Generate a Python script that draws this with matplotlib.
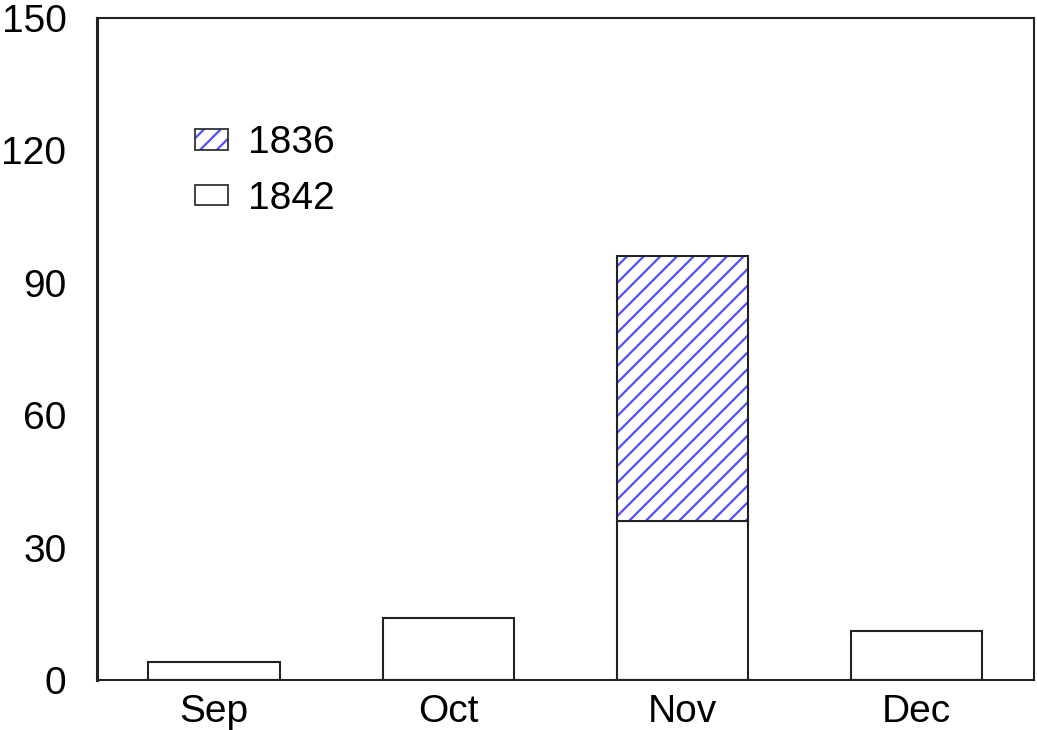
import matplotlib.pyplot as plt
from matplotlib.patches import Patch
from matplotlib.legend_handler import HandlerTuple

months = ["Sep", "Oct", "Nov", "Dec"]
y1842 = [4, 14, 36, 11]
y1836 = [0, 0, 60, 0]

plt.rcParams['font.family'] = ['Liberation Sans', 'DejaVu Sans']
plt.rcParams['hatch.linewidth'] = 1.6

fig = plt.figure(figsize=(10.37, 7.30), dpi=100)
ax = fig.add_axes([0.0935, 0.0685, 0.9035, 0.9068])

x = range(len(months))
w = 0.56

ax.bar(x, y1842, width=w, color="white", edgecolor="#222222", linewidth=1.5, zorder=2)
# hatch in blue, outline in black drawn on top
ax.bar(x, y1836, width=w, bottom=y1842, color="white", edgecolor="#5050ff",
       hatch="//", linewidth=0, zorder=2)
for xi, b, h in zip(x, y1842, y1836):
    if h > 0:
        ax.bar(xi, h, width=w, bottom=b, fill=False, edgecolor="#222222",
               linewidth=1.5, zorder=3)

ax.set_xlim(-0.5, 3.5)
ax.set_ylim(0, 150)
ax.set_yticks([0, 30, 60, 90, 120, 150])
ax.set_xticks(list(x))
ax.set_xticklabels(months)
ax.tick_params(axis="y", length=0, pad=22, labelsize=28)
ax.tick_params(axis="x", length=0, pad=10, labelsize=28)

for s in ax.spines.values():
    s.set_color("#222222")
    s.set_linewidth(1.5)
ax.spines["left"].set_linewidth(2.2)

h36 = (Patch(facecolor="white", edgecolor="#5050ff", hatch="//", linewidth=0),
       Patch(facecolor="none", edgecolor="#333333", linewidth=1.3))
h42 = Patch(facecolor="white", edgecolor="#333333", linewidth=1.3)
ax.legend([h36, h42], ["1836", "1842"], handler_map={tuple: HandlerTuple(ndivide=1, pad=0)},
          loc="upper left", bbox_to_anchor=(0.105, 0.838), frameon=False, fontsize=28,
          handlelength=0.85, handleheight=0.43, handletextpad=0.5, labelspacing=0.5,
          borderaxespad=0, borderpad=0)

fig.savefig("out.png", dpi=100)
